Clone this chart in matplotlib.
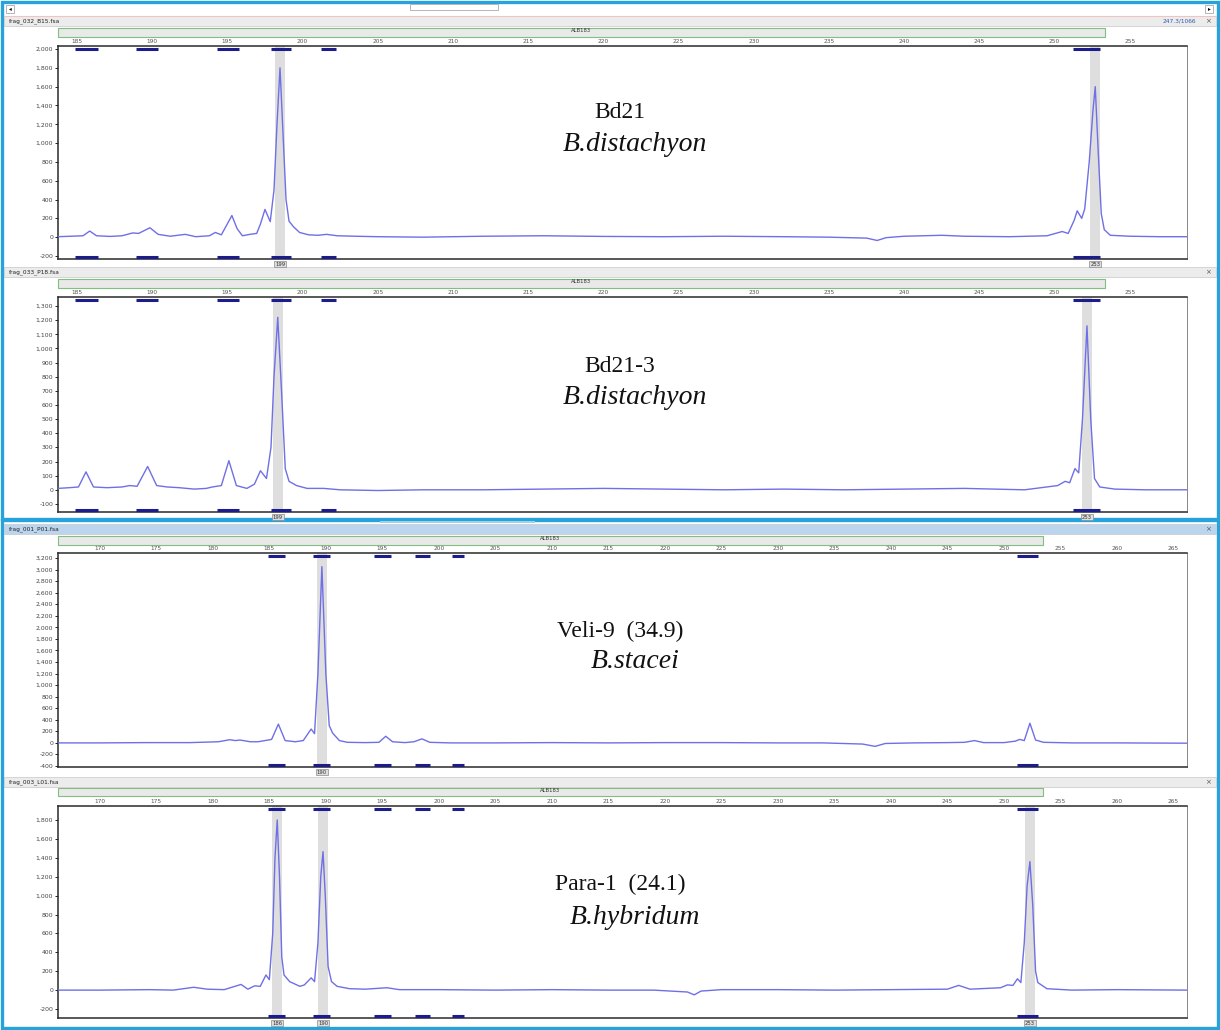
import matplotlib
matplotlib.use("Agg")
import matplotlib.pyplot as plt
from matplotlib.patches import Rectangle
from matplotlib.ticker import FuncFormatter, MultipleLocator
import matplotlib.transforms as mtransforms

W, H = 1220, 1030

# ---- data ----
files = ["frag_032_B15.fsa", "frag_033_P18.fsa", "frag_001_P01.fsa", "frag_003_L01.fsa"]
names = ["Bd21", "Bd21-3", "Veli-9  (34.9)", "Para-1  (24.1)"]
species = ["B.distachyon", "B.distachyon", "B.stacei", "B.hybridum"]
marker = "ALB183"

# allele bins (bp)
bin_lo = [184.9, 188.9, 194.3, 197.9, 201.2, 251.2]
bin_hi = [186.4, 190.4, 195.8, 199.2, 202.2, 253.0]

# called alleles: label and position of the peak
call_labels = [["199", "253"], ["199", "253"], ["190"], ["186", "190", "253"]]
call_pos = [[198.5, 252.7], [198.35, 252.15], [189.65], [185.7, 189.75, 252.3]]

# traces (size in bp, signal in RFU)
b15_x = [183.74, 184.6, 185.4, 185.85, 186.3, 187.2, 188.0, 188.7, 189.1, 189.85, 190.4,
         191.2, 192.2, 192.9, 193.8, 194.2, 194.6, 195.3, 195.65, 196.0, 196.5, 196.95,
         197.2, 197.5, 197.85, 198.1, 198.3, 198.5, 198.7, 198.9, 199.1, 199.4, 199.8,
         200.4, 201.0, 201.6, 202.3, 203.5, 205, 208, 212, 216, 220, 224, 228, 232, 235,
         237.5, 238.2, 238.8, 240, 242.5, 244, 247, 249.5, 250.5, 250.9, 251.3, 251.5,
         251.8, 252.0, 252.3, 252.55, 252.7, 252.9, 253.1, 253.3, 253.7, 255, 257, 258.8]
b15_y = [5, 10, 15, 65, 15, 8, 15, 45, 40, 100, 30,
         10, 30, 5, 15, 50, 25, 230, 90, 15, 30, 40,
         140, 295, 165, 500, 1200, 1800, 1100, 400, 170, 110, 50,
         25, 20, 30, 15, 10, 5, 0, 10, 15, 8, 5, 10, 5, 0,
         -10, -35, -5, 10, 20, 10, 5, 15, 60, 40, 180, 280,
         200, 300, 800, 1350, 1600, 900, 250, 80, 20, 10, 5, 5]

p18_x = [183.74, 184.5, 185.1, 185.6, 186.1, 187.0, 188.0, 188.5, 189.0, 189.7, 190.3,
         191.0, 191.8, 192.8, 193.6, 194.0, 194.6, 195.1, 195.6, 196.3, 196.8, 197.2,
         197.6, 197.9, 198.1, 198.35, 198.6, 198.85, 199.1, 199.6, 200.3, 201.4, 202.5,
         205, 208, 212, 216, 220, 224, 228, 232, 236, 240, 244, 248, 250.2, 250.7, 251.0,
         251.35, 251.6, 251.85, 252.15, 252.4, 252.65, 253.0, 254, 256, 258.8]
p18_y = [10, 15, 20, 127, 20, 15, 20, 30, 25, 165, 30,
         20, 15, 5, 10, 20, 30, 206, 30, 10, 40, 135,
         80, 300, 800, 1220, 700, 150, 60, 30, 10, 10, 0,
         -5, 0, 0, 5, 10, 5, 0, 5, 0, 5, 10, 0, 30, 60, 50,
         150, 120, 500, 1160, 500, 80, 20, 5, 0, 0]

p01_x = [166.3, 170, 174, 178, 180.5, 181.5, 182.0, 182.4, 183.3, 184.0, 184.6, 185.2,
         185.8, 186.4, 187.3, 188.0, 188.7, 189.0, 189.3, 189.65, 190.0, 190.3, 190.6,
         191.2, 191.9, 193.5, 194.7, 195.3, 195.9, 197.0, 197.8, 198.5, 199.2, 201, 205,
         210, 215, 220, 225, 230, 234, 237.5, 238.6, 239.5, 242, 245, 246.5, 247.4, 248.2,
         250.0, 251.0, 251.4, 251.8, 252.3, 252.8, 253.5, 256, 260, 266.2]
p01_y = [0, 0, 5, 5, 20, 55, 40, 50, 20, 20, 40, 60,
         325, 40, 20, 40, 240, 160, 1200, 3050, 1200, 300, 170,
         40, 10, 5, 10, 115, 20, 5, 20, 70, 10, 0, 0,
         5, 0, 5, 5, 0, 0, -20, -60, -10, 0, 5, 10, 40, 5,
         5, 30, 60, 40, 340, 50, 10, 0, 0, -5]

l01_x = [166.3, 170, 174.4, 176.5, 178.3, 179.5, 181, 182.5, 183.1, 183.7, 184.2, 184.7,
         185.0, 185.3, 185.5, 185.7, 185.9, 186.1, 186.3, 186.8, 187.7, 188.1, 188.7,
         189.0, 189.3, 189.55, 189.75, 189.95, 190.2, 190.5, 191.0, 192.1, 193.5, 195.4,
         196.5, 200, 205, 210, 215, 219, 222.0, 222.6, 223.2, 225, 230, 235, 240, 245,
         246.0, 247, 249.7, 250.3, 250.8, 251.2, 251.5, 251.8, 252.05, 252.3, 252.55,
         252.8, 253.0, 253.8, 256, 260, 266.2]
l01_y = [0, 0, 5, 0, 30, 10, 5, 60, 10, 45, 40, 160,
         110, 600, 1400, 1800, 1200, 350, 160, 90, 40, 55, 130,
         90, 500, 1200, 1465, 1000, 250, 90, 40, 15, 10, 25,
         5, 5, 0, 5, 0, 0, -20, -50, -10, 5, 5, 0, 5, 10,
         50, 10, 25, 55, 50, 120, 80, 500, 1100, 1360, 900,
         200, 80, 15, 0, 5, 0]

traces = [(b15_x, b15_y), (p18_x, p18_y), (p01_x, p01_y), (l01_x, l01_y)]

# ---- layout (pixels of the screenshot) ----
panels = [
    dict(title=(16, 26), tcol="#ececec", bar=(58, 28, 1105, 37), ax=(58, 46, 1187, 259),
         xlim=(183.74, 258.8), ylim=(-232, 2032), ystep=200, xt=range(185, 256, 5),
         band=0.33, txt=(620, 113, 145)),
    dict(title=(267, 277), tcol="#ececec", bar=(58, 279, 1105, 288), ax=(58, 297, 1187, 512),
         xlim=(183.74, 258.8), ylim=(-157, 1364), ystep=100, xt=range(185, 256, 5),
         band=0.33, txt=(620, 367, 398)),
    dict(title=(524, 534), tcol="#bcd5ee", bar=(58, 536, 1043, 545), ax=(58, 553, 1187, 767),
         xlim=(166.3, 266.2), ylim=(-417, 3286), ystep=200, xt=range(170, 266, 5),
         band=0.42, txt=(620, 631, 661)),
    dict(title=(777, 787), tcol="#ececec", bar=(58, 788, 1043, 796), ax=(58, 806, 1187, 1018),
         xlim=(166.3, 266.2), ylim=(-295, 1948), ystep=200, xt=range(170, 266, 5),
         band=0.42, txt=(620, 884, 918)),
]

TRACE = "#6f6fe6"
BIN = "#1c1c8c"
CYAN = "#27a3dc"

fig = plt.figure(figsize=(W / 100, H / 100), dpi=100)
bg = fig.add_axes([0, 0, 1, 1])
bg.set_xlim(0, W)
bg.set_ylim(H, 0)
bg.axis("off")

# window frames
bg.add_patch(Rectangle((1.5, 1.5), W - 4, 517, fill=False, ec=CYAN, lw=2.4))
bg.add_patch(Rectangle((1.5, 520), W - 4, H - 522, fill=False, ec=CYAN, lw=2.4))
# top scroll bar
bg.plot([4, W - 4], [15.5, 15.5], color="#f0c4c4", lw=0.8)
bg.add_patch(Rectangle((6, 5), 8, 8, fc="white", ec="#999999", lw=0.5))
bg.add_patch(Rectangle((W - 15, 5), 8, 8, fc="white", ec="#999999", lw=0.5))
bg.text(10, 9, "◂", fontsize=4, ha="center", va="center")
bg.text(W - 11, 9, "▸", fontsize=4, ha="center", va="center")
bg.add_patch(Rectangle((410, 4), 88, 6, fc="white", ec="#aaaaaa", lw=0.6))
bg.add_patch(Rectangle((380, 521), 155, 2, fc="#9fd0ec", ec="none"))

for i, p in enumerate(panels):
    t0, t1 = p["title"]
    bg.add_patch(Rectangle((4, t0), W - 8, t1 - t0, fc=p["tcol"], ec="#c8c8c8", lw=0.5))
    bg.text(9, (t0 + t1) / 2, files[i], fontsize=4.2, va="center", ha="left", color="#222222")
    bg.text(W - 12, (t0 + t1) / 2, "×", fontsize=5, va="center", ha="center", color="#555555")
    if i == 0:
        bg.text(1196, (t0 + t1) / 2, "247.3/1066", fontsize=4.2, va="center", ha="right",
                color="#2a5caa")
    bx0, by0, bx1, by1 = p["bar"]
    bg.add_patch(Rectangle((bx0, by0), bx1 - bx0, by1 - by0, fc="#e9e9e9", ec="#7fbf7f", lw=0.8))
    bg.text((bx0 + bx1) / 2, by0 + 2.5, marker, fontsize=3.8, ha="center", va="center",
            color="#333333")

    x0, y0, x1, y1 = p["ax"]
    ax = fig.add_axes([x0 / W, 1 - y1 / H, (x1 - x0) / W, (y1 - y0) / H])
    ax.set_facecolor("white")
    ax.set_xlim(*p["xlim"])
    ax.set_ylim(*p["ylim"])

    for c in call_pos[i]:
        ax.axvspan(c - p["band"], c + p["band"], color="#dedede", zorder=1, lw=0)
    tx, ty = traces[i]
    ax.plot(tx, ty, color=TRACE, lw=1.0, zorder=3)

    trans = mtransforms.blended_transform_factory(ax.transData, ax.transAxes)
    for lo, hi in zip(bin_lo, bin_hi):
        ax.plot([lo, hi], [0.988, 0.988], color=BIN, lw=2.2, transform=trans, zorder=4,
                solid_capstyle="butt", clip_on=False)
        ax.plot([lo, hi], [0.01, 0.01], color=BIN, lw=2.2, transform=trans, zorder=4,
                solid_capstyle="butt", clip_on=False)
    for lab, c in zip(call_labels[i], call_pos[i]):
        ax.text(c, -0.012, lab, transform=trans, fontsize=3.8, ha="center", va="top",
                color="#333333",
                bbox=dict(boxstyle="square,pad=0.15", fc="#dedede", ec="#8a8a8a", lw=0.5))

    ax.xaxis.tick_top()
    ax.set_xticks(list(p["xt"]))
    ax.tick_params(axis="x", length=0, pad=1.5, labelsize=4.2, labelcolor="#555555")
    ax.yaxis.set_major_locator(MultipleLocator(p["ystep"]))
    ax.yaxis.set_major_formatter(FuncFormatter(lambda v, pos: f"{int(round(v)):,}"))
    ax.tick_params(axis="y", length=2, width=0.6, pad=1.5, labelsize=4.4, labelcolor="#444444")
    for s in ["left", "bottom", "top"]:
        ax.spines[s].set_color("#2a2a2a")
        ax.spines[s].set_linewidth(1.1)
    ax.spines["right"].set_color("#888888")
    ax.spines["right"].set_linewidth(0.7)

    # sample name and species, drawn on top of the panel
    tx0, ny, sy = p["txt"]
    fig.text(tx0 / W, 1 - ny / H, names[i], fontsize=17, family="Liberation Serif",
             ha="center", va="center", color="#111111", zorder=10)
    fig.text((tx0 + 15) / W, 1 - sy / H, species[i], fontsize=20, family="Liberation Serif",
             style="italic", ha="center", va="center", color="#111111", zorder=10)

fig.savefig("out.png", dpi=100)
